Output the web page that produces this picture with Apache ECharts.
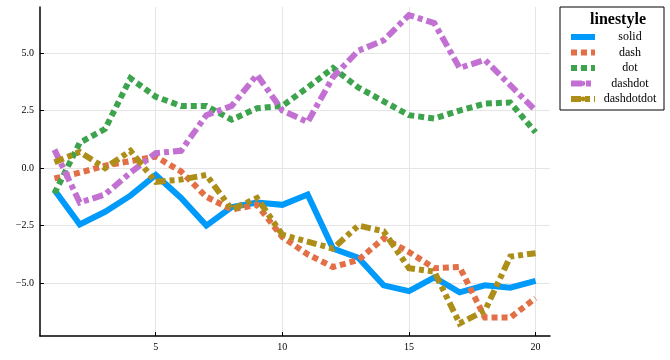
<!DOCTYPE html>
<html><head><meta charset="utf-8">
<script src="https://cdn.jsdelivr.net/npm/echarts@6/dist/echarts.min.js"></script>
<style>html,body{margin:0;padding:0;background:#fff}#c{width:670px;height:360px}</style>
</head><body><div id="c"></div>
<script>
const xs = [1,2,3,4,5,6,7,8,9,10,11,12,13,14,15,16,17,18,19,20];
const solid = [-0.95,-2.45,-1.9,-1.2,-0.3,-1.3,-2.5,-1.7,-1.5,-1.6,-1.15,-3.5,-3.9,-5.1,-5.35,-4.75,-5.4,-5.1,-5.2,-4.9];
const dash = [-0.45,-0.2,0.1,0.3,0.5,-0.15,-1.25,-1.8,-1.6,-3.0,-3.75,-4.3,-4.0,-3.05,-3.65,-4.35,-4.3,-6.5,-6.5,-5.65];
const dot = [-1.1,1.1,1.7,3.9,3.1,2.7,2.7,2.1,2.6,2.7,3.5,4.35,3.5,2.9,2.3,2.15,2.5,2.8,2.85,1.55];
const dashdot = [0.8,-1.5,-1.15,-0.2,0.65,0.75,2.3,2.7,4.05,2.5,2.0,3.95,5.1,5.55,6.65,6.3,4.35,4.7,3.6,2.5];
const dashdotdot = [0.25,0.7,0.0,0.75,-0.6,-0.5,-0.3,-1.8,-1.3,-2.9,-3.2,-3.5,-2.5,-2.75,-4.35,-4.5,-6.75,-6.2,-3.85,-3.7];
const names = ['solid','dash','dot','dashdot','dashdotdot'];
const colors = ['#009AFA','#E26F46','#3DA44D','#C271D2','#AC8E18'];
const dashes = ['solid',[6,4],[6,4],[11,4,5,4],[10,4,5,4,5,4]];
const xTicks = [5,10,15,20];
const yTicks = [-5,-2.5,0,2.5,5];
const yLabels = ['\u22125.0','\u22122.5','0.0','2.5','5.0'];
const allData = [solid,dash,dot,dashdot,dashdotdot];
const font = 'Liberation Serif';

const chart = echarts.init(document.getElementById('c'), null, {renderer:'canvas'});
chart.setOption({
  animation:false,
  backgroundColor:'#fff',
  title:{text:'linestyle', left:585, top:7, textStyle:{fontFamily:font,fontWeight:'bold',fontSize:16,color:'#000'}},
  legend:{
    orient:'vertical', left:560, top:7,
    padding:[24,4,5,8], itemGap:3.5, itemWidth:24, itemHeight:6,
    backgroundColor:'#fff', borderColor:'#000', borderWidth:1, borderRadius:0,
    lineStyle:{width:6},
    data:names,
    formatter: n => '{c|' + n + '}',
    textStyle:{fontFamily:font,fontSize:12,color:'#000',lineHeight:12,
      rich:{c:{width:60,align:'center',fontFamily:font,fontSize:12,color:'#000'}}}
  },
  grid:{left:40,right:120,top:7,bottom:24,containLabel:false},
  xAxis:{type:'value',min:0.43,max:20.57,
    axisLine:{show:true,onZero:false,lineStyle:{color:'#000',width:1.5}},
    axisTick:{show:true,inside:true,length:4,customValues:xTicks,lineStyle:{color:'#000'}},
    axisLabel:{customValues:xTicks,fontFamily:font,fontSize:10,color:'#000',margin:6},
    splitLine:{show:true,lineStyle:{color:'#e5e5e5',width:1}}
  },
  yAxis:{type:'value',min:-7.3,max:7.0,
    axisLine:{show:true,onZero:false,lineStyle:{color:'#000',width:1.5}},
    axisTick:{show:true,inside:true,length:4,customValues:yTicks,lineStyle:{color:'#000'}},
    axisLabel:{customValues:yTicks,fontFamily:font,fontSize:10,color:'#000',margin:6,
      formatter: v => yLabels[yTicks.indexOf(v)] ?? ''},
    splitLine:{show:true,lineStyle:{color:'#e5e5e5',width:1}}
  },
  series: names.map((n,i)=>({
    name:n, type:'line', symbol:'none', showSymbol:false,
    data: xs.map((x,j)=>[x, allData[i][j]]),
    color: colors[i],
    lineStyle:{color:colors[i], width:6, type:dashes[i], cap:'butt', join:'miter'},
    z: 2+i
  }))
});
</script></body></html>
